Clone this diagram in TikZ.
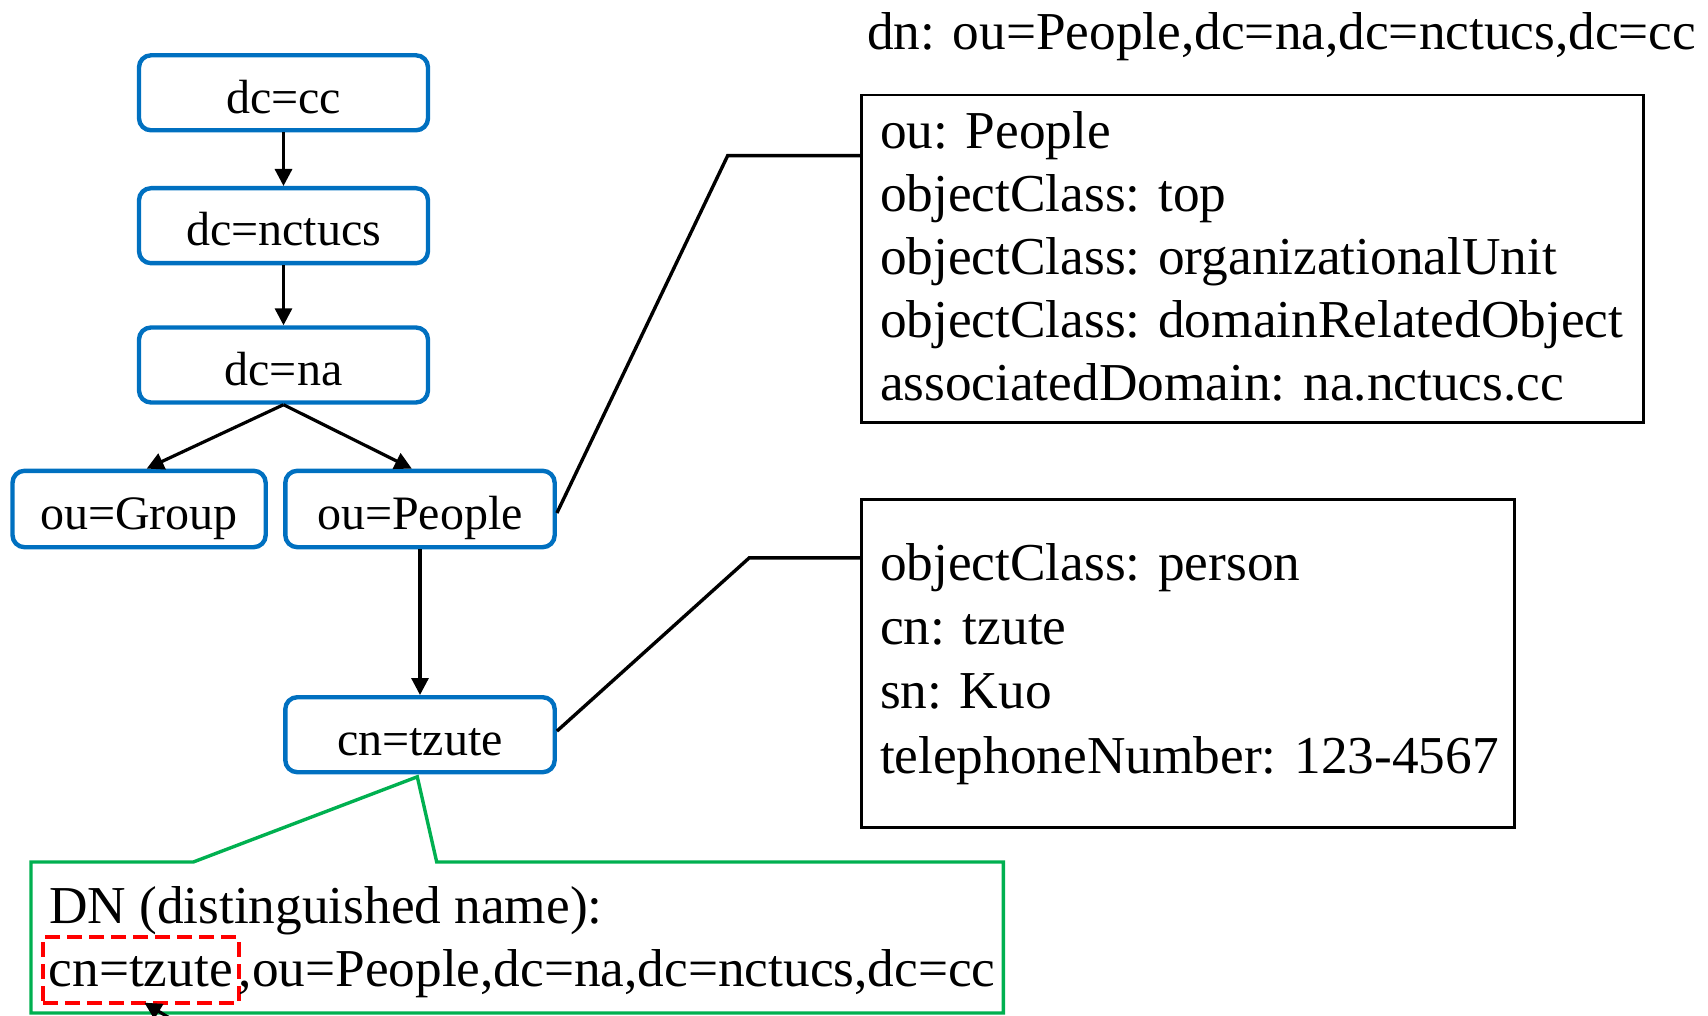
\documentclass[tikz,border=0pt]{standalone}
\usepackage{fontspec}
\setmainfont{Liberation Serif}
\usetikzlibrary{arrows.meta,calc}

\definecolor{ldapblue}{HTML}{0070C0}
\definecolor{calloutgreen}{HTML}{00B050}
\definecolor{markred}{HTML}{FF0000}

\tikzset{
  treenode/.style={draw=ldapblue, line width=2.2pt, rounded corners=6pt,
    inner sep=0pt, minimum height=37.5pt, text height=20.3pt, text depth=0pt,
    font=\fontsize{24}{28.8}\selectfont},
  attrbox/.style={draw=black, line width=1.45pt, inner sep=0pt, rectangle},
  bigtext/.style={inner sep=0pt, outer sep=0pt, font=\fontsize{26.65}{31.6}\selectfont},
  treearrow/.style={draw=black, line width=1.6pt, -{Triangle[length=8.5pt,width=8.5pt]}},
  leader/.style={draw=black, line width=1.7pt},
  callout/.style={draw=calloutgreen, line width=1.7pt},
  redmark/.style={draw=markred, line width=2pt, dash pattern=on 7.5pt off 3.5pt,
    inner xsep=3pt, inner ysep=0pt, outer sep=0pt, text height=24.7pt, text depth=8pt,
    font=\fontsize{26.65}{31.6}\selectfont},
}

\begin{document}
\begin{tikzpicture}[x=0.5pt, y=-0.5pt]
  \useasboundingbox (0,0) rectangle (1708,1016);
  \clip (0,0) rectangle (1708,1016);

  % directory tree
  \node[treenode, minimum width=144.5pt] (dccc)     at (283.5,92.8)  {dc=cc};
  \node[treenode, minimum width=144.5pt] (dcnctucs) at (283.5,225.7) {dc=nctucs};
  \node[treenode, minimum width=144.5pt] (dcna)     at (283.5,365)   {dc=na};
  \node[treenode, minimum width=126.6pt, minimum height=38.2pt] (ogroup)  at (139.1,509) {ou=Group};
  \node[treenode, minimum width=134.7pt, minimum height=38.2pt] (opeople) at (420,509)   {ou=People};
  \node[treenode, minimum width=134.7pt] (cn) at (420,734.7) {cn=tzute};

  \draw[treearrow] (dccc.south) -- (dcnctucs.north);
  \draw[treearrow] (dcnctucs.south) -- (dcna.north);
  \draw[treearrow] (dcna.south) -- ([xshift=3.8pt]ogroup.north);
  \draw[treearrow] (dcna.south) -- ([xshift=-4.1pt]opeople.north);
  \draw[treearrow] (opeople.south) -- (cn.north);

  % entry of ou=People (multi-line nodes sit on the baseline of their last line)
  \node[bigtext, anchor=base west] (dnlabel) at (867,50) {dn: ou=People,dc=na,dc=nctucs,dc=cc};
  \node[attrbox, minimum width=390.8pt, minimum height=163.75pt] (topbox) at (1252.5,258.75) {};
  \node[bigtext, anchor=base west, align=left, font=\fontsize{26.65}{31.45}\selectfont] (topattrs) at (880,400)
    {ou: People\\objectClass: top\\objectClass: organizationalUnit\\objectClass: domainRelatedObject\\associatedDomain: na.nctucs.cc};

  % entry of cn=tzute
  \node[attrbox, minimum width=326.3pt, minimum height=164.1pt] (lowbox) at (1188,663.4) {};
  \node[bigtext, anchor=base west, align=left, font=\fontsize{26.65}{32.2}\selectfont] (lowattrs) at (880,773.3)
    {objectClass: person\\cn: tzute\\sn: Kuo\\telephoneNumber: 123-4567};

  % leader lines from the tree to the entries
  \coordinate (k1) at (727.7,155.6);
  \coordinate (k2) at (749.3,557.8);
  \draw[leader] ([yshift=-2pt]opeople.east) -- (k1) -- (k1 -| topbox.west);
  \draw[leader] ([yshift=1.8pt]cn.east) -- (k2) -- (k2 -| lowbox.west);

  % callout with the distinguished name
  \coordinate (tip) at ($(cn.south)+(-2.7,2.4)$);
  \draw[callout] (31,862) -- (193.3,862) -- (tip) -- (436.7,862) -- (1003.3,862)
    -- (1003.3,1013) -- (31,1013) -- cycle;
  \node[bigtext, anchor=base west] (dntitle) at (49,923.3) {DN (distinguished name):};
  \node[redmark, anchor=base west] (cnpart) at (42.8,986.7) {cn=tzute};
  \node[bigtext, anchor=base west] (restpart) at (cnpart.base east) {,ou=People,dc=na,dc=nctucs,dc=cc};

  % pointer to the relative part
  \coordinate (tail) at (197.6,1035);
  \draw[treearrow] (tail) -- ([xshift=1.8pt]cnpart.south);
\end{tikzpicture}
\end{document}
